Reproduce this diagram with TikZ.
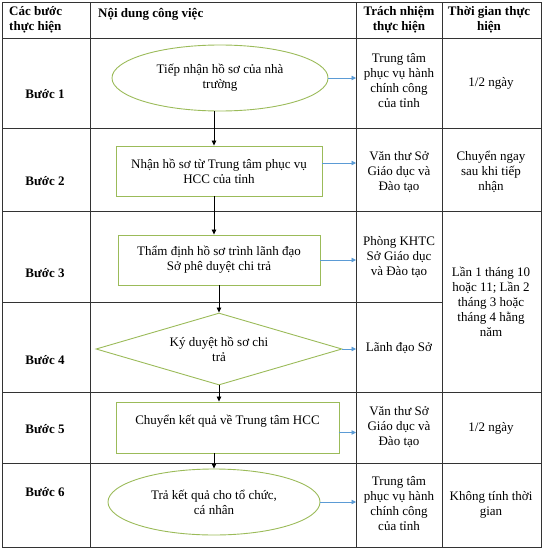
\documentclass[tikz,border=0pt]{standalone}
\usepackage{fontspec}
\setmainfont{Liberation Serif}
\usetikzlibrary{shapes.geometric,arrows.meta}
\definecolor{flowgreen}{RGB}{155,187,89}
\definecolor{respblue}{RGB}{91,155,213}
\begin{document}
\begin{tikzpicture}[x=1pt,y=-1pt,
  font=\fontsize{13}{15}\selectfont,
  grid/.style={draw=black!80,line width=0.9pt},
  head/.style={font=\fontsize{13}{15}\selectfont\bfseries,align=center,inner sep=0pt},
  stepname/.style={font=\fontsize{13}{15}\selectfont\bfseries,inner sep=0pt},
  cell/.style={align=center,inner sep=0pt},
  greenline/.style={draw=flowgreen,line width=0.9pt,align=center,inner sep=2pt},
  oval/.style={greenline,ellipse,minimum width=216,minimum height=66},
  stepbox/.style={greenline,rectangle,minimum height=50},
  decision/.style={greenline,diamond,aspect=3.4,minimum width=246,minimum height=72,inner sep=0pt},
  flow/.style={draw=black,line width=0.8pt,-{Triangle[length=5pt,width=4.5pt]}},
  toresp/.style={draw=respblue,line width=0.7pt,-{Triangle[length=4.5pt,width=4.5pt]}}]
\useasboundingbox (0,0) rectangle (545,549);
% table
\draw[grid] (2,2) rectangle (541,547);
\draw[grid] (90,2) -- (90,547);
\draw[grid] (356,2) -- (356,547);
\draw[grid] (442,2) -- (442,547);
\draw[grid] (2,38) -- (541,38);
\draw[grid] (2,128) -- (541,128);
\draw[grid] (2,211) -- (541,211);
\draw[grid] (2,302) -- (442,302);
\draw[grid] (2,392) -- (541,392);
\draw[grid] (2,463) -- (541,463);
\coordinate (C3) at (356,0);
\path node[head,align=left,anchor=west] (H1) at (9,20) {Các bước\\thực hiện}
node[head,anchor=west] (H2) at (98,14) {Nội dung công việc}
node[head] (H3) at (399,20) {Trách nhiệm\\thực hiện}
node[head] (H4) at (489,20) {Thời gian thực\\hiện}
node[stepname] (B1) at (45,94) {Bước 1}
node[stepname] (B2) at (45,181) {Bước 2}
node[stepname] (B3) at (45,273) {Bước 3}
node[stepname] (B4) at (45,360) {Bước 4}
node[stepname] (B5) at (45,429) {Bước 5}
node[stepname] (B6) at (45,492) {Bước 6}
node[oval] (E1) at (220,78) {Tiếp nhận hồ sơ của nhà\\trường}
node[stepbox,minimum width=206] (R2) at (219,171) {Nhận hồ sơ từ Trung tâm phục vụ\\HCC của tỉnh}
node[stepbox,minimum width=202] (R3) at (219,260) {Thẩm định hồ sơ trình lãnh đạo\\Sở phê duyệt chi trả}
node[decision] (D4) at (219,349) {Ký duyệt hồ sơ chi\\trả}
node[stepbox,minimum width=223,text height=20pt,text depth=27pt] (R5) at (227.5,427.5) {Chuyển kết quả về Trung tâm HCC}
node[oval,minimum width=212] (E6) at (214,502) {Trả kết quả cho tổ chức,\\cá nhân}
node[cell] (T1) at (399,81) {Trung tâm\\phục vụ hành\\chính công\\của tỉnh}
node[cell] (T2) at (399,172) {Văn thư Sở\\Giáo dục và\\Đào tạo}
node[cell] (T3) at (399,257) {Phòng KHTC\\Sở Giáo dục\\và Đào tạo}
node[cell] (T4) at (399,348) {Lãnh đạo Sở}
node[cell] (T5) at (399,427) {Văn thư Sở\\Giáo dục và\\Đào tạo}
node[cell] (T6) at (399,504) {Trung tâm\\phục vụ hành\\chính công\\của tỉnh}
node[cell] (G1) at (491,83) {1/2 ngày}
node[cell] (G2) at (491,172) {Chuyển ngay\\sau khi tiếp\\nhận}
node[cell] (G34) at (491,302) {Lần 1 tháng 10\\hoặc 11; Lần 2\\tháng 3 hoặc\\tháng 4 hằng\\năm}
node[cell] (G5) at (491,428) {1/2 ngày}
node[cell] (G6) at (491,505) {Không tính thời\\gian}
;
% flow
\draw[flow] ([xshift=-6pt]E1.south) -- ([xshift=-6pt]E1.south |- R2.north);
\draw[flow] ([xshift=-5pt]R2.south) -- ([xshift=-5pt]R2.south |- R3.north);
\draw[flow] (R3) -- (D4);
\draw[flow] (D4) -- (D4 |- R5.north);
\draw[flow] (R5.south -| E6) -- (E6);
% to responsible unit
\draw[toresp] (E1.east) -- (E1.east -| C3);
\draw[toresp] ([yshift=8pt]R2.east) -- ([yshift=8pt]R2.east -| C3);
\draw[toresp] (R3.east) -- (R3.east -| C3);
\draw[toresp] (D4.east) -- (D4.east -| C3);
\draw[toresp] ([yshift=-5pt]R5.east) -- ([yshift=-5pt]R5.east -| C3);
\draw[toresp] (E6.east) -- (E6.east -| C3);
\end{tikzpicture}
\end{document}
